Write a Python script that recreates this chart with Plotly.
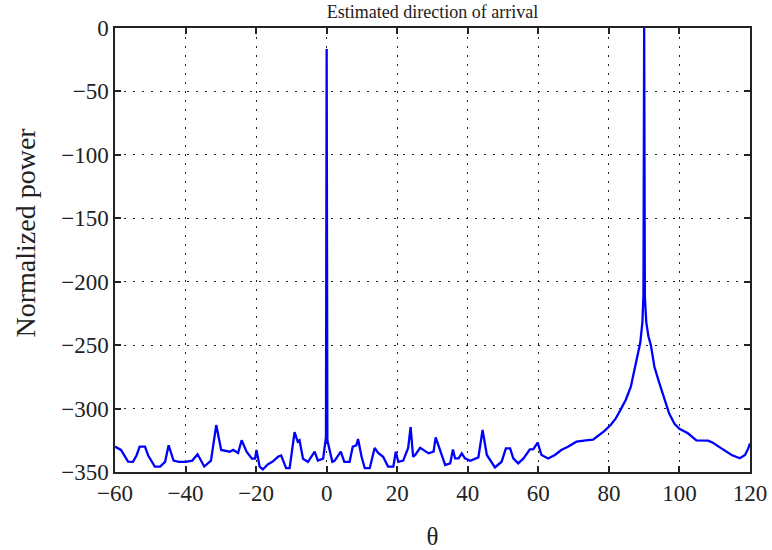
import plotly.graph_objects as go

# Angle (degrees) and normalized power (dB)
theta = [
    -60, -58.3, -56.3, -54.9, -53.9, -53.0, -51.5, -50.6, -48.7, -47.2,
    -45.8, -44.8, -43.4, -41.9, -40.0, -38.1, -36.6, -34.7, -32.8, -31.3,
    -29.9, -27.5, -26.5, -25.1, -24.1, -22.7, -21.2, -20.3, -19.9, -19.0,
    -18.1, -16.7, -15.3, -13.8, -12.9, -11.5, -10.5, -9.1, -8.2, -7.7,
    -6.7, -5.3, -3.4, -2.5, -1.0, -0.2, 0.0, 0.2, 1.6, 2.3,
    4.0, 5.0, 6.5, 7.4, 8.4, 8.9, 9.9, 10.8, 12.2, 13.6,
    14.6, 16.0, 17.4, 18.9, 19.6, 20.3, 21.7, 23.1, 23.8, 24.5,
    25.1, 26.5, 28.9, 30.3, 30.9, 32.2, 33.6, 35.0, 35.8, 36.4,
    37.4, 38.3, 39.2, 40.7, 43.0, 44.2, 45.4, 47.7, 49.6, 50.8,
    52.0, 52.9, 54.3, 55.8, 57.6, 58.6, 59.8, 60.9, 62.8, 64.7,
    66.5, 68.4, 70.8, 73.5, 75.5, 76.7, 78.6, 80.5, 81.9, 83.3,
    84.8, 86.2, 87.1, 88.1, 88.9, 89.5, 89.8, 90.0, 90.2, 90.6,
    91.2, 91.9, 92.9, 94.3, 95.7, 97.1, 98.6, 100.0, 102.4, 104.8,
    108.1, 109.5, 111.9, 114.8, 117.1, 118.6, 119.5, 120.0,
]
power = [
    -330, -332.6, -341.8, -342, -337, -330, -330, -337, -345.7, -345.7,
    -342, -329, -341, -342, -342, -341, -336, -345.7, -341, -313,
    -332.6, -334, -332.6, -335, -325, -334, -339.5, -339.5, -332.6, -345.7,
    -348, -344, -341.8, -338, -337, -347, -347, -318.5, -326, -325,
    -339.5, -342, -334, -341, -339.5, -322.5, -16.5, -325, -342, -341,
    -334, -342, -342, -330, -329, -324, -338, -347, -347, -331,
    -335, -338, -345.7, -345.7, -334, -342, -341, -331, -314.5, -338,
    -336.6, -331, -335.3, -334, -322.7, -334, -344.5, -343.2, -332.2, -339.3,
    -339.3, -335.3, -339.3, -341.1, -338.5, -316.9, -336.6, -346.4, -341.9, -331.4,
    -331.4, -339.3, -343.2, -339.3, -332.2, -331.9, -326.9, -336.6, -339.3, -336.6,
    -332.7, -330.1, -326.1, -325, -324.5, -322, -318, -313, -308, -301,
    -293, -283, -272, -259, -248, -232, -210, 0, -212, -232,
    -243, -250, -267, -280, -293, -304, -312, -316, -319.5, -325,
    -325.3, -327, -331.4, -336.6, -339.2, -336.6, -331.4, -327.5,
]

x_ticks = [-60, -40, -20, 0, 20, 40, 60, 80, 100, 120]
y_ticks = [-350, -300, -250, -200, -150, -100, -50, 0]

FONT = "Liberation Serif, Times New Roman, serif"

fig = go.Figure()
fig.add_trace(go.Scatter(
    x=theta, y=power, mode="lines",
    line=dict(color="#0000ff", width=2.3),
    showlegend=False,
))

axis_common = dict(
    showline=True, linecolor="#222", linewidth=1.5, mirror="ticks",
    ticks="inside", ticklen=6, tickwidth=1.5, tickcolor="#222",
    showgrid=True, gridcolor="#222", gridwidth=1.3, griddash="2px,7px",
    zeroline=False, automargin=False,
    tickfont=dict(family=FONT, size=23, color="#222"),
)

fig.update_layout(
    width=772, height=550,
    margin=dict(l=115, r=22, t=28, b=78),
    paper_bgcolor="white", plot_bgcolor="white",
    font=dict(family=FONT, color="#222"),
    title=dict(
        text="Estimated direction of arrival",
        font=dict(family=FONT, size=18, color="#222"),
        x=0.5, xref="paper", xanchor="center",
        y=1 - 12 / 550, yref="container", yanchor="middle",
    ),
    xaxis=dict(
        range=[-60, 120], tickvals=x_ticks,
        title=dict(text="θ", font=dict(family=FONT, size=25, color="#222"), standoff=22),
        **axis_common,
    ),
    yaxis=dict(
        range=[-350, 0], tickvals=y_ticks,
        **axis_common,
    ),
    annotations=[dict(
        text="Normalized power", textangle=-90, showarrow=False,
        xref="paper", yref="paper", x=-90 / 635, y=(472 - 232.5) / 444,
        xanchor="center", yanchor="middle",
        font=dict(family=FONT, size=28, color="#222"),
    )],
)

fig.write_html("out.html")
